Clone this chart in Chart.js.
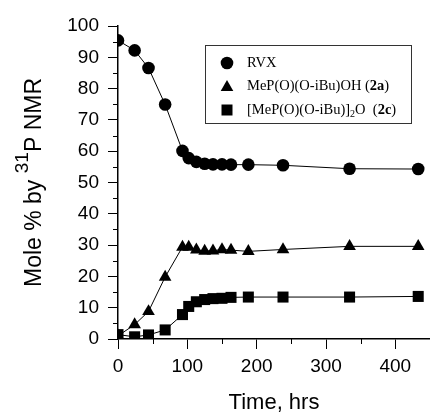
<!DOCTYPE html>
<html>
<head>
<meta charset="utf-8">
<script src="https://cdn.jsdelivr.net/npm/chart.js@4.4.0/dist/chart.umd.min.js"></script>
<style>
  body { margin: 0; background: #fff; }
</style>
</head>
<body>
<canvas id="chart" width="430" height="420"></canvas>
<script>
// Sampling times (hrs), shared by all three species
const hours = [0, 24, 44, 68, 93, 102, 113, 125, 137, 150, 163, 188, 238, 334, 433];

// Mole % by 31P NMR for each species
const rvx = [95.4, 92.2, 86.6, 74.9, 60.1, 57.8, 56.6, 56.0, 55.8, 55.8, 55.7, 55.7, 55.5, 54.4, 54.3];
const acid2a = [1.0, 4.6, 8.8, 19.8, 29.4, 29.4, 28.5, 28.1, 28.2, 28.6, 28.4, 28.0, 28.6, 29.6, 29.6];
const anhydride2c = [1.4, 0.7, 1.3, 2.9, 7.8, 10.4, 11.9, 12.6, 12.9, 13.0, 13.3, 13.4, 13.4, 13.4, 13.6];

// minor tick positions
const xMinor = [50, 150, 250, 350];
const yMinor = [5, 15, 25, 35, 45, 55, 65, 75, 85, 95];

// axis titles and legend text, split where the font changes
const xTitle = 'Time, hrs';
const yTitle = [['Mole % by ', 'n'], ['31', 'sup'], ['P NMR', 'n']];
const legendRows = [
    { style: 'circle', parts: [['RVX', 'n']] },
    { style: 'triangle', parts: [['MeP(O)(O-iBu)OH (', 'n'], ['2a', 'b'], [')', 'n']] },
    { style: 'rect', parts: [['[MeP(O)(O-iBu)]', 'n'], ['2', 'sub'], ['O  (', 'n'], ['2c', 'b'], [')', 'n']] }
];

const sans = '"Liberation Sans", Arial, sans-serif';
const serif = '"Liberation Serif", "Times New Roman", serif';

function series(values, style, radius) {
    return {
        data: hours.map((h, i) => ({ x: h, y: values[i] })),
        borderColor: '#000',
        borderWidth: 1,
        backgroundColor: '#000',
        pointStyle: style,
        pointRadius: radius,
        pointBorderWidth: 0,
        pointBackgroundColor: '#000',
        tension: 0,
        fill: false
    };
}

function drawMarker(ctx, style, x, y) {
    ctx.beginPath();
    if (style === 'circle') {
        ctx.arc(x, y, 6.3, 0, Math.PI * 2);
    } else if (style === 'triangle') {
        ctx.moveTo(x, y - 6.5);
        ctx.lineTo(x + 6.3, y + 4.5);
        ctx.lineTo(x - 6.3, y + 4.5);
        ctx.closePath();
    } else {
        ctx.rect(x - 5.5, y - 5.5, 11, 11);
    }
    ctx.fill();
}

// minor ticks, rotated y title with superscript, and the boxed legend
const decorations = {
    id: 'decorations',
    beforeDatasetsDraw(chart) {
        const ctx = chart.ctx;
        const xs = chart.scales.x, ys = chart.scales.y;
        ctx.save();
        ctx.strokeStyle = '#000';
        ctx.lineWidth = 1;
        ctx.beginPath();
        xMinor.forEach(v => {
            const px = Math.round(xs.getPixelForValue(v)) + 0.5;
            ctx.moveTo(px, ys.bottom);
            ctx.lineTo(px, ys.bottom + 5);
        });
        yMinor.forEach(v => {
            const py = Math.round(ys.getPixelForValue(v)) + 0.5;
            ctx.moveTo(xs.left, py);
            ctx.lineTo(xs.left - 5, py);
        });
        ctx.stroke();
        ctx.restore();
    },
    afterDraw(chart) {
        const ctx = chart.ctx;
        const ys = chart.scales.y;

        // y axis title
        ctx.save();
        ctx.fillStyle = '#000';
        ctx.textBaseline = 'alphabetic';
        ctx.translate(41, (ys.top + ys.bottom) / 2);
        ctx.rotate(-Math.PI / 2);
        const fontFor = kind => (kind === 'sup' ? '19px ' : '23px ') + sans;
        let total = 0;
        yTitle.forEach(([t, k]) => { ctx.font = fontFor(k); total += ctx.measureText(t).width; });
        let cx = -total / 2;
        yTitle.forEach(([t, k]) => {
            ctx.font = fontFor(k);
            ctx.fillText(t, cx, k === 'sup' ? -13 : 0);
            cx += ctx.measureText(t).width;
        });
        ctx.restore();

        // legend
        ctx.save();
        ctx.strokeStyle = '#333';
        ctx.lineWidth = 1;
        ctx.fillStyle = '#fff';
        ctx.fillRect(205.5, 45.5, 206, 78);
        ctx.strokeRect(205.5, 45.5, 206, 78);
        ctx.fillStyle = '#000';
        ctx.textBaseline = 'middle';
        const rowY = [63, 86.5, 110];
        legendRows.forEach((row, i) => {
            drawMarker(ctx, row.style, 227, rowY[i]);
            let tx = 247;
            row.parts.forEach(([t, k]) => {
                if (k === 'b') ctx.font = 'bold 14.5px ' + serif;
                else if (k === 'sub') ctx.font = '10px ' + serif;
                else ctx.font = '14.5px ' + serif;
                ctx.fillText(t, tx, k === 'sub' ? rowY[i] + 4 : rowY[i]);
                tx += ctx.measureText(t).width;
            });
        });
        ctx.restore();
    }
};

const ctx = document.getElementById('chart').getContext('2d');
new Chart(ctx, {
    type: 'line',
    data: {
        datasets: [
            series(rvx, 'circle', 6.3),
            series(acid2a, 'triangle', 7.3),
            series(anhydride2c, 'rect', 7.8)
        ]
    },
    options: {
        responsive: false,
        animation: false,
        layout: { autoPadding: false, padding: { top: 26, right: 0, left: 0, bottom: 0 } },
        plugins: { legend: { display: false }, tooltip: { enabled: false } },
        scales: {
            x: {
                type: 'linear',
                min: 0,
                max: 450,
                afterFit: s => { s.height = 81; s.paddingLeft = 0; s.paddingRight = 0; },
                border: { display: true, color: '#000', width: 1.5 },
                grid: { display: true, drawOnChartArea: false, drawTicks: true, tickLength: 10, color: '#000', lineWidth: 1 },
                ticks: { stepSize: 100, includeBounds: false, color: '#000', padding: 6, font: { family: sans, size: 19 } },
                title: { display: true, text: xTitle, color: '#000', font: { family: sans, size: 22 } }
            },
            y: {
                min: 0,
                max: 100,
                afterFit: s => { s.width = 118; s.paddingTop = 0; s.paddingBottom = 0; },
                border: { display: true, color: '#000', width: 1.5 },
                grid: { display: true, drawOnChartArea: false, drawTicks: true, tickLength: 10, color: '#000', lineWidth: 1 },
                ticks: { stepSize: 10, color: '#000', padding: 9, font: { family: sans, size: 19 } }
            }
        }
    },
    plugins: [decorations]
});
</script>
</body>
</html>
